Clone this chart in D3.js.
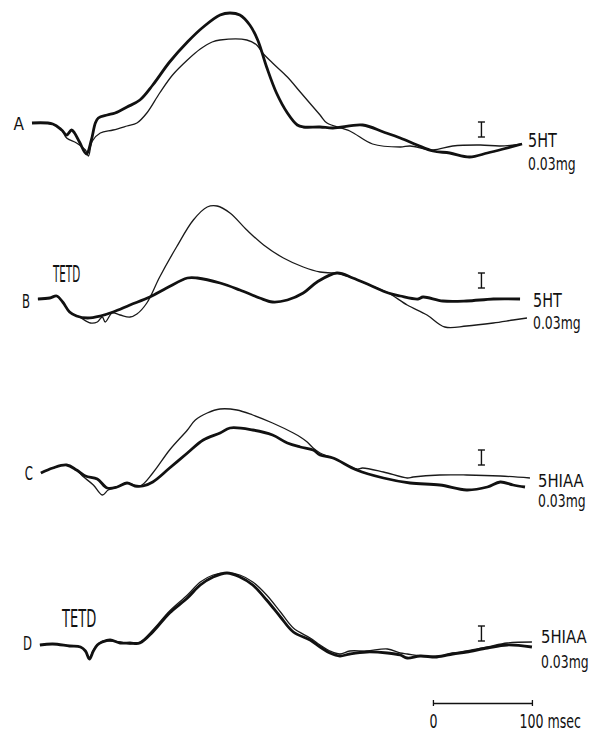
<!DOCTYPE html>
<html>
<head>
<meta charset="utf-8">
<script src="https://cdn.jsdelivr.net/npm/d3@7"></script>
<style>
  body { margin: 0; background: #fff; }
  text { font-family: "DejaVu Sans Condensed", "Liberation Sans Narrow", sans-serif; fill: #111; }
</style>
</head>
<body>
<div id="chart"></div>
<script>
// svg parameters
var svgWidth = 601;
var svgHeight = 732;

// labels
var panelLetters = ["A", "B", "C", "D"];
var drugLabels = ["5HT", "5HT", "5HIAA", "5HIAA"];
var doseLabels = ["0.03mg", "0.03mg", "0.03mg", "0.03mg"];
var pretreatLabels = ["", "TETD", "", "TETD"];
var scaleBarTicks = [0, 100];
var scaleBarLabels = ["0", "100 msec"];

// traces: [msec, amplitude] (amplitude up = positive)
var traceA_thick = [[2,0],[23,-1],[32,-7],[37,-12],[42,-7],[45,-10],[50,-19],[57,-31],[62,-17],[66,0],[69,5],
  [78,8],[86,10],[98,16],[111,23],[124,38],[141,61],[159,81],[175,96],[192,108],[202,110],[212,108],
  [222,98],[230,83],[239,56],[249,30],[260,10],[270,-2],[276,-4],[293,-4],[306,-5],[336,-2],[357,-9],
  [374,-15],[391,-22],[407,-28],[424,-30],[444,-34],[462,-30],[478,-26],[497,-21]];
var traceA_thin = [[2,0],[23,-1],[32,-7],[37,-15],[47,-20],[56,-27],[59,-33],[63,-18],[71,-10],[84,-7],
  [98,-3],[108,0],[118,10],[131,30],[144,48],[159,63],[172,74],[184,81],[192,83],[219,83],[229,78],
  [235,70],[245,60],[260,46],[273,31],[293,8],[300,0],[323,-8],[346,-21],[374,-24],[384,-23],[407,-27],
  [427,-23],[455,-22],[475,-23],[497,-21]];

var traceB_thick = [[8,0],[20,1],[27,3],[33,-3],[40,-13],[47,-17],[58,-19],[71,-17],[84,-13],[101,-6],
  [121,2],[138,11],[159,21],[169,21],[192,16],[212,9],[232,1],[245,-3],[260,-1],[276,6],[290,17],
  [310,26],[326,21],[343,14],[362,6],[374,3],[392,0],[397,2],[417,-2],[441,-2],[468,0],[495,0]];
var traceB_thin = [[8,0],[20,1],[27,3],[33,-3],[40,-13],[50,-18],[61,-24],[68,-23],[73,-18],[76,-23],
  [83,-14],[91,-16],[101,-18],[108,-15],[118,-4],[131,22],[148,52],[165,79],[179,92],[189,93],[202,86],
  [219,69],[236,54],[256,41],[276,32],[293,27],[306,26],[310,26],[326,21],[343,14],[362,6],[381,-6],
  [401,-16],[419,-28],[441,-27],[468,-24],[488,-21],[502,-19]];

var traceC_thick = [[11,0],[23,5],[37,8],[47,3],[56,-3],[68,-6],[78,-15],[88,-14],[98,-10],[106,-13],
  [114,-13],[124,-9],[141,5],[159,20],[175,33],[192,40],[202,45],[225,43],[245,38],[260,30],[273,26],
  [286,23],[293,18],[306,15],[330,3],[357,-5],[384,-10],[414,-12],[441,-17],[462,-14],[475,-9],
  [488,-12],[500,-14]];
var traceC_thin = [[11,0],[23,5],[37,8],[47,3],[53,-3],[64,-12],[73,-22],[79,-17],[88,-14],[98,-10],
  [111,-13],[124,0],[141,23],[159,43],[167,53],[179,60],[192,64],[209,63],[225,58],[245,50],[266,40],
  [273,36],[280,31],[286,25],[293,20],[306,15],[330,4],[336,5],[357,1],[381,-5],[387,-4],[414,-2],
  [441,-2],[475,-3],[505,-5]];

var traceD_thick = [[10,0],[23,1],[40,-1],[51,-2],[56,-6],[60,-14],[64,-6],[68,0],[73,3],[81,5],[91,2],
  [101,2],[111,2],[124,13],[141,32],[159,47],[172,60],[185,68],[199,72],[212,68],[225,60],[239,45],
  [253,28],[266,13],[283,5],[293,-2],[303,-8],[313,-11],[323,-9],[340,-7],[361,-8],[374,-10],[381,-13],
  [394,-11],[411,-12],[427,-9],[441,-7],[462,-3],[482,0],[507,-2]];
var traceD_thin = [[10,0],[23,1],[40,-1],[51,-2],[56,-6],[60,-13],[64,-5],[68,0],[73,4],[81,4],[91,3],
  [101,1],[111,3],[124,15],[141,34],[159,50],[172,63],[185,70],[199,72],[212,70],[225,63],[239,50],
  [253,33],[266,17],[283,7],[293,0],[303,-6],[313,-9],[323,-6],[340,-6],[361,-4],[374,-8],[381,-9],
  [394,-11],[411,-11],[427,-8],[441,-6],[462,-2],[482,2],[507,3]];

var thickTraces = [traceA_thick, traceB_thick, traceC_thick, traceD_thick];
var thinTraces = [traceA_thin, traceB_thin, traceC_thin, traceD_thin];

// layout of each panel (pixels)
var panelLayout = [
  {base: 123, letterY: 130, drugX: 528, drugY: 147, doseY: 170, calTop: 122, tetdX: 0, tetdY: 0, tetdSize: 0, tetdSy: 1},
  {base: 299, letterY: 308, drugX: 533, drugY: 307, doseY: 329, calTop: 273, tetdX: 53, tetdY: 282, tetdSize: 11.5, tetdSy: 2.0},
  {base: 473, letterY: 480, drugX: 538, drugY: 487, doseY: 507, calTop: 450, tetdX: 0, tetdY: 0, tetdSize: 0, tetdSy: 1},
  {base: 645, letterY: 650, drugX: 541, drugY: 643, doseY: 668, calTop: 626, tetdX: 62, tetdY: 627, tetdSize: 14.5, tetdSy: 1.75}
];

var svg = d3.select("#chart").append("svg")
  .attr("width", svgWidth)
  .attr("height", svgHeight);

// tall, narrow lettering like the original
function label(txt, x, y, size, sy, anchor) {
  return svg.append("text")
    .attr("transform", "translate(" + x + "," + y + ") scale(1," + sy + ")")
    .attr("font-size", size)
    .attr("text-anchor", anchor || "start")
    .text(txt);
}

var xScale = d3.scaleLinear().domain([0, 500]).range([30, 525]);
var yScale = d3.scaleLinear().domain([0, 100]).range([0, -100]);

var line = d3.line()
  .x(function(d) { return xScale(d[0]); })
  .y(function(d) { return yScale(d[1]); })
  .curve(d3.curveCatmullRom.alpha(0.5));

panelLetters.forEach(function(letter, i) {
  var lay = panelLayout[i];
  var g = svg.append("g").attr("transform", "translate(0," + lay.base + ")");

  g.append("path")
    .attr("d", line(thinTraces[i]))
    .attr("fill", "none")
    .attr("stroke", "#1a1a1a")
    .attr("stroke-width", 1.3);

  g.append("path")
    .attr("d", line(thickTraces[i]))
    .attr("fill", "none")
    .attr("stroke", "#111")
    .attr("stroke-width", 2.8)
    .attr("stroke-linejoin", "round");

  label(letter, xScale(thickTraces[i][0][0]) - 8, lay.letterY, i === 0 ? 17 : 13, i === 0 ? 1.05 : 1.45, "end");

  if (drugLabels[i] === "5HT") label(drugLabels[i], lay.drugX, lay.drugY, 16, 1.25);
  else label(drugLabels[i], lay.drugX, lay.drugY, 16.5, 1.1);
  label(doseLabels[i], lay.drugX, lay.doseY, 13.8, 1.3);

  if (pretreatLabels[i]) label(pretreatLabels[i], lay.tetdX, lay.tetdY, lay.tetdSize, lay.tetdSy);

  // calibration mark
  var cx = xScale(456);
  var cal = svg.append("g").attr("stroke", "#111").attr("stroke-width", 1.4);
  cal.append("line").attr("x1", cx).attr("x2", cx).attr("y1", lay.calTop).attr("y2", lay.calTop + 15);
  cal.append("line").attr("x1", cx - 3.5).attr("x2", cx + 3.5).attr("y1", lay.calTop).attr("y2", lay.calTop);
  cal.append("line").attr("x1", cx - 3.5).attr("x2", cx + 3.5).attr("y1", lay.calTop + 15).attr("y2", lay.calTop + 15);
});

// time scale bar
var barScale = d3.scaleLinear().domain([0, 100]).range([xScale(407), xScale(507)]);
var barAxis = d3.axisBottom(barScale)
  .tickValues(scaleBarTicks)
  .tickSizeInner(3)
  .tickSizeOuter(0)
  .tickFormat(function(d, i) { return scaleBarLabels[i]; });

var barG = svg.append("g")
  .attr("class", "scaleBar")
  .attr("transform", "translate(0,703)")
  .call(barAxis);
barG.select(".domain").attr("stroke", "#111").attr("stroke-width", 1.3);
barG.selectAll(".tick line").attr("y1", -3).attr("stroke", "#111").attr("stroke-width", 1.3);
barG.selectAll(".tick text")
  .attr("font-family", "DejaVu Sans Condensed, Liberation Sans Narrow, sans-serif")
  .attr("font-size", 14)
  .attr("fill", "#111")
  .attr("transform", "scale(1,1.35)")
  .attr("y", 18.5)
  .attr("dy", 0)
  .attr("text-anchor", function(d) { return d === 0 ? "middle" : "start"; })
  .attr("x", function(d) { return d === 0 ? 0 : -13; });
</script>
</body>
</html>
